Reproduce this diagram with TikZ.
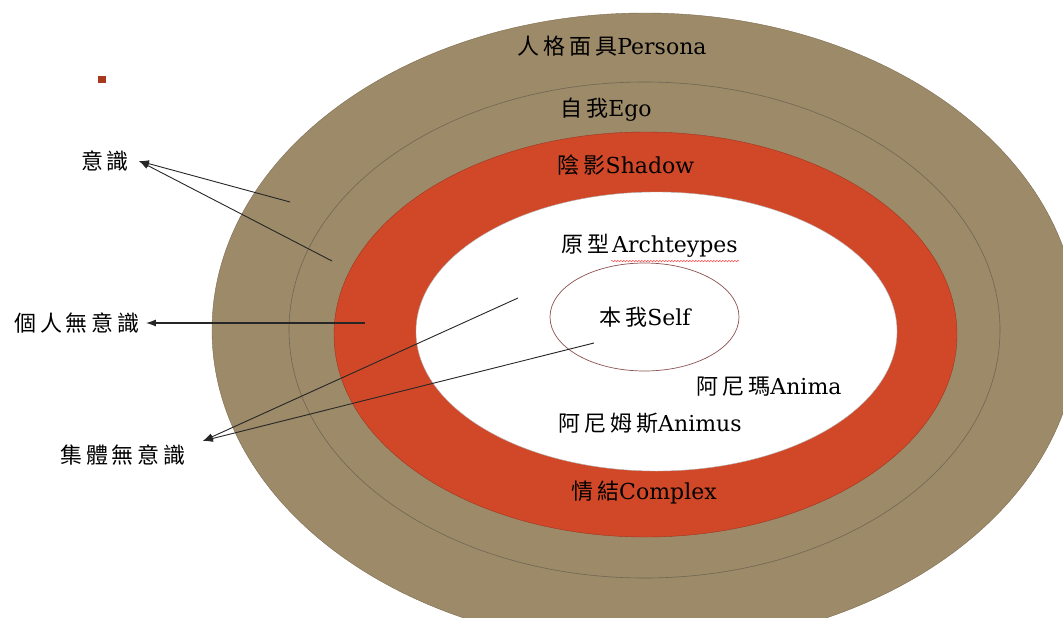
\documentclass[tikz,border=0pt]{standalone}
\usepackage{fontspec}
\setmainfont{DejaVu Serif}
\newfontfamily\cjk[LetterSpace=18]{Noto Sans CJK TC}
\usetikzlibrary{arrows.meta,decorations.pathmorphing}
\definecolor{personabrown}{RGB}{156,138,104}
\definecolor{shadowred}{RGB}{209,72,41}
\definecolor{egoline}{RGB}{112,102,84}
\definecolor{selfline}{RGB}{140,82,82}
\definecolor{squarered}{RGB}{168,56,30}

\begin{document}
\begin{tikzpicture}[x=1pt,y=-1pt,
  every node/.style={font=\fontsize{22}{26}\selectfont, inner sep=1pt},
  side/.style={outer sep=#1},
  pointer/.style={draw=black!85, line width=0.9pt, -{Latex[length=10pt,width=7pt]}}]
\useasboundingbox (0,0) rectangle (1063,618);
\clip (0,0) rectangle (1063,618);
% rings
\fill[fill=personabrown, draw=personabrown!80!black, line width=0.4pt] (645,330) ellipse [x radius=433pt, y radius=317pt];
\draw[egoline, line width=0.6pt] (644.5,330) ellipse [x radius=355.5pt, y radius=248pt];
\fill[fill=shadowred, draw=shadowred!75!black, line width=0.4pt] (645.5,334.5) ellipse [x radius=311.5pt, y radius=202.5pt];
\fill[fill=white, draw=gray!60, line width=0.4pt] (656.5,331.5) ellipse [x radius=240.5pt, y radius=139.5pt];
\draw[selfline, line width=0.7pt] (644.5,317) ellipse [x radius=94.5pt, y radius=54pt];
\fill[squarered] (98,76) rectangle (106,83);
% texts in the rings
\node (persona) at (612,46) {{\cjk 人格面具}Persona};
\node (ego) at (606,110) {{\cjk 自我}Ego};
\node (shadow) at (626,165) {{\cjk 陰影}Shadow};
\node[anchor=base east] (yuanxing) at (611,252) {\cjk 原型};
\node[anchor=base west] (arch) at (yuanxing.base east) {Archteypes};
\draw[red!80, line width=0.4pt, decorate, decoration={snake, amplitude=0.8pt, segment length=3pt}]
  ([yshift=-3pt]arch.south west) -- ([yshift=-3pt]arch.south east);
\node (self) at (645,317) {{\cjk 本我}Self};
\node (anima) at (769,387) {{\cjk 阿尼瑪}Anima};
\node (animus) at (650,423) {{\cjk 阿尼姆斯}Animus};
\node (complex) at (644,493) {{\cjk 情結}Complex};
% labels on the left
\node[side=9pt] (yishi) at (105,161) {\cjk 意識};
\node[side=5pt] (geren) at (77,323) {\cjk 個人無意識};
\node[side=16pt] (jiti) at (123,455) {\cjk 集體無意識};
\coordinate (persona end) at (290,202);
\coordinate (ego end) at (332,261);
\coordinate (shadow end) at (365,323);
\coordinate (arch end) at (518,298);
\coordinate (self end) at (594,343);
\draw[pointer] (persona end) -- (yishi.east);
\draw[pointer] (ego end) -- (yishi.east);
\draw[pointer, line width=1.2pt] (shadow end) -- (geren.east);
\draw[pointer] (arch end) -- (jiti.10);
\draw[pointer] (self end) -- (jiti.10);
\end{tikzpicture}
\end{document}
